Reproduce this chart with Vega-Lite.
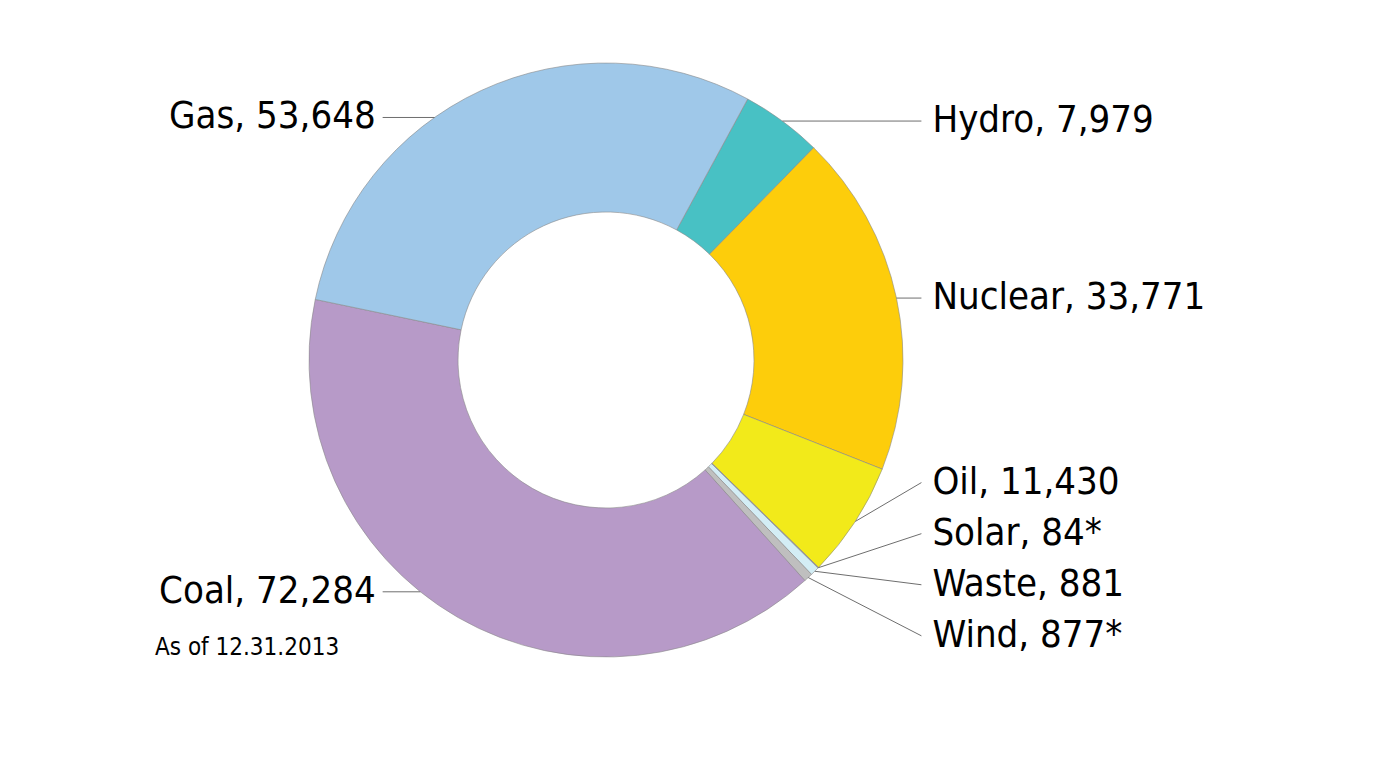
{
  "$schema": "https://vega.github.io/schema/vega-lite/v6.json",
  "width": 1212,
  "height": 720,
  "autosize": "none",
  "padding": {"left": 0, "top": 0, "right": 168, "bottom": 40},
  "background": "white",
  "data": {
    "values": [
      {"source": "Hydro", "capacity": 7979, "note": ""},
      {"source": "Nuclear", "capacity": 33771, "note": ""},
      {"source": "Oil", "capacity": 11430, "note": ""},
      {"source": "Solar", "capacity": 84, "note": "*"},
      {"source": "Waste", "capacity": 881, "note": ""},
      {"source": "Wind", "capacity": 877, "note": "*"},
      {"source": "Coal", "capacity": 72284, "note": ""},
      {"source": "Gas", "capacity": 53648, "note": ""}
    ]
  },
  "transform": [
    {"window": [{"op": "row_number", "as": "idx"}]},
    {"joinaggregate": [{"op": "sum", "field": "capacity", "as": "total"}]},
    {
      "window": [{"op": "sum", "field": "capacity", "as": "cum"}],
      "sort": [{"field": "idx"}],
      "frame": [null, 0]
    },
    {"calculate": "0.4974 + 2 * PI * (datum.cum - datum.capacity / 2) / datum.total", "as": "mid"},
    {"calculate": "sin(datum.mid) >= 0 ? 'right' : 'left'", "as": "side"},
    {"calculate": "cos(datum.mid) * (datum.side == 'left' ? 0.9 : 1)", "as": "ny"},
    {
      "window": [{"op": "row_number", "as": "k"}],
      "groupby": ["side"],
      "sort": [{"field": "ny", "order": "descending"}]
    },
    {"calculate": "datum.ny + datum.k * 0.172", "as": "t"},
    {
      "window": [{"op": "min", "field": "t", "as": "tmin"}],
      "groupby": ["side"],
      "sort": [{"field": "ny", "order": "descending"}],
      "frame": [null, 0]
    },
    {
      "window": [{"op": "max", "field": "t", "as": "tmax"}],
      "groupby": ["side"],
      "sort": [{"field": "ny", "order": "descending"}],
      "frame": [0, null]
    },
    {"calculate": "0.6 * datum.tmin + 0.4 * datum.tmax - datum.k * 0.172", "as": "ly"},
    {"calculate": "datum.side == 'right' ? sin(datum.mid) : -sqrt(1 - datum.ly * datum.ly)", "as": "ax"},
    {"calculate": "datum.side == 'right' ? cos(datum.mid) : datum.ly", "as": "ay"},
    {"calculate": "datum.side == 'right' ? 1.062 : -0.752", "as": "ex"},
    {"calculate": "datum.source + ', ' + format(datum.capacity, ',') + datum.note", "as": "label"}
  ],
  "layer": [
    {
      "mark": {
        "type": "arc",
        "innerRadius": 148,
        "outerRadius": 297,
        "stroke": "#8a8a8a",
        "strokeWidth": 0.6
      },
      "encoding": {
        "theta": {
          "field": "capacity",
          "type": "quantitative",
          "stack": true,
          "scale": {"range": [0.4974, 6.7806]}
        },
        "order": {"field": "idx", "type": "quantitative"},
        "color": {
          "field": "source",
          "type": "nominal",
          "legend": null,
          "scale": {
            "domain": ["Hydro", "Nuclear", "Oil", "Solar", "Waste", "Wind", "Coal", "Gas"],
            "range": ["#48c1c4", "#fdcd0b", "#f2ea1a", "#9b8fb0", "#d3edf5", "#bfbfbf", "#b79ac8", "#9fc8e9"]
          }
        }
      }
    },
    {
      "mark": {"type": "rule", "color": "#6e6e6e", "strokeWidth": 1},
      "encoding": {
        "x": {
          "field": "ax",
          "type": "quantitative",
          "axis": null,
          "scale": {"domain": [-2.0404, 2.0404], "nice": false, "zero": false}
        },
        "y": {
          "field": "ay",
          "type": "quantitative",
          "axis": null,
          "scale": {"domain": [-1.2121, 1.2121], "nice": false, "zero": false}
        },
        "x2": {"field": "ex"},
        "y2": {"field": "ly"}
      }
    },
    {
      "transform": [{"filter": "datum.side == 'right'"}],
      "mark": {
        "type": "text",
        "align": "left",
        "baseline": "middle",
        "dx": 11,
        "font": "DejaVu Sans Condensed, sans-serif",
        "fontSize": 38,
        "color": "black"
      },
      "encoding": {
        "x": {"field": "ex", "type": "quantitative"},
        "y": {"field": "ly", "type": "quantitative"},
        "text": {"field": "label"}
      }
    },
    {
      "transform": [{"filter": "datum.side == 'left'"}],
      "mark": {
        "type": "text",
        "align": "right",
        "baseline": "middle",
        "dx": -7,
        "font": "DejaVu Sans Condensed, sans-serif",
        "fontSize": 38,
        "color": "black"
      },
      "encoding": {
        "x": {"field": "ex", "type": "quantitative"},
        "y": {"field": "ly", "type": "quantitative"},
        "text": {"field": "label"}
      }
    },
    {
      "data": {"values": [{"text": "As of 12.31.2013"}]},
      "transform": [],
      "mark": {
        "type": "text",
        "align": "left",
        "baseline": "middle",
        "font": "DejaVu Sans Condensed, sans-serif",
        "fontSize": 24,
        "color": "black"
      },
      "encoding": {
        "x": {"datum": -1.5185, "type": "quantitative"},
        "y": {"datum": -0.9697, "type": "quantitative"},
        "text": {"field": "text"}
      }
    }
  ],
  "config": {"view": {"stroke": null}}
}
